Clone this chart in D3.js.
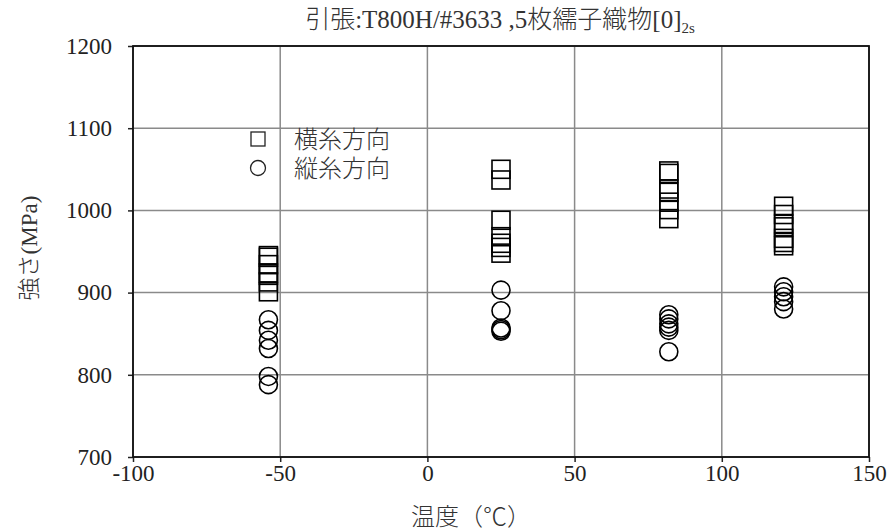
<!DOCTYPE html>
<html>
<head>
<meta charset="utf-8">
<script src="https://cdn.jsdelivr.net/npm/d3@7"></script>
<style>
  body { margin: 0; background: #fff; }
  svg text { font-family: "Liberation Serif", "Noto Sans CJK JP", serif; fill: #222; }
  svg text.cjk { font-weight: 300; fill: #333; }
</style>
</head>
<body>
<div id="chart"></div>
<script>
// temperatures (°C) where the specimens were tested
const temperatures = [-54, 25, 82, 121];
// 横糸方向 (squares) strength per temperature, MPa
const weftStrength = [
    [945, 943, 934, 924, 921, 913, 901],
    [1050, 1037, 988, 968, 960, 955, 948],
    [1048, 1045, 1026, 1022, 1010, 1001, 990],
    [1005, 995, 984, 980, 966, 961, 957]
];
// 縦糸方向 (circles) strength per temperature, MPa
const warpStrength = [
    [867, 854, 842, 832, 798, 788],
    [903, 878, 857, 855, 853],
    [873, 868, 862, 858, 854, 828],
    [907, 901, 895, 889, 880]
];
const xTicks = [-100, -50, 0, 50, 100, 150];
const yTicks = [700, 800, 900, 1000, 1100, 1200];
const legendNames = ["横糸方向", "縦糸方向"];

const width = 893, height = 531;
const margin = {top: 46, right: 24, bottom: 74, left: 133};

const svg = d3.select("#chart")
    .append("svg")
    .attr("width", width)
    .attr("height", height);

const x = d3.scaleLinear().domain([-100, 150]).range([margin.left, width - margin.right]);
const y = d3.scaleLinear().domain([700, 1200]).range([height - margin.bottom, margin.top]);

// grid lines
svg.append("g")
    .selectAll("line")
    .data(xTicks)
    .join("line")
    .attr("x1", d => x(d)).attr("x2", d => x(d))
    .attr("y1", y(700)).attr("y2", y(1200))
    .attr("stroke", "#8a8a8a")
    .attr("stroke-width", 1.5);
svg.append("g")
    .selectAll("line")
    .data(yTicks)
    .join("line")
    .attr("x1", x(-100)).attr("x2", x(150))
    .attr("y1", d => y(d)).attr("y2", d => y(d))
    .attr("stroke", "#8a8a8a")
    .attr("stroke-width", 1.5);

// axes
const xAxis = svg.append("g")
    .attr("transform", "translate(0," + y(700) + ")")
    .call(d3.axisBottom(x).tickValues(xTicks).tickSize(5).tickPadding(3).tickFormat(d => String(d)));
const yAxis = svg.append("g")
    .attr("transform", "translate(" + x(-100) + ",0)")
    .call(d3.axisLeft(y).tickValues(yTicks).tickSize(5).tickPadding(16).tickFormat(d => String(d)));
[xAxis, yAxis].forEach(a => {
    a.attr("font-family", null).attr("font-size", null);
    a.select(".domain").remove();
    a.selectAll("line").attr("stroke", "#222").attr("stroke-width", 1.5);
    a.selectAll("text").style("font-size", "23px").style("fill", "#222");
});

// plot border
svg.append("rect")
    .attr("x", x(-100)).attr("y", y(1200))
    .attr("width", x(150) - x(-100))
    .attr("height", y(700) - y(1200))
    .attr("fill", "none")
    .attr("stroke", "#111")
    .attr("stroke-width", 1.8);

// flatten data into points
const weftPoints = temperatures.flatMap((t, i) => weftStrength[i].map(v => [t, v]));
const warpPoints = temperatures.flatMap((t, i) => warpStrength[i].map(v => [t, v]));
const s = 18;

svg.append("g")
    .selectAll("rect")
    .data(weftPoints)
    .join("rect")
    .attr("x", d => x(d[0]) - s / 2)
    .attr("y", d => y(d[1]) - s / 2)
    .attr("width", s).attr("height", s)
    .attr("fill", "none")
    .attr("stroke", "#000")
    .attr("stroke-width", 1.6);

svg.append("g")
    .selectAll("circle")
    .data(warpPoints)
    .join("circle")
    .attr("cx", d => x(d[0]))
    .attr("cy", d => y(d[1]))
    .attr("r", s / 2)
    .attr("fill", "none")
    .attr("stroke", "#000")
    .attr("stroke-width", 1.6);

// legend
const legend = svg.append("g");
legend.append("rect")
    .attr("x", 251).attr("y", 132).attr("width", 14).attr("height", 14)
    .attr("fill", "none").attr("stroke", "#222").attr("stroke-width", 1.3);
legend.append("circle")
    .attr("cx", 258).attr("cy", 168).attr("r", 7.5)
    .attr("fill", "none").attr("stroke", "#222").attr("stroke-width", 1.3);
legend.selectAll("text")
    .data(legendNames)
    .join("text")
    .attr("class", "cjk")
    .attr("x", 294)
    .attr("y", (d, i) => 148 + i * 29)
    .text(d => d)
    .style("font-size", "24px");

// title
const title = svg.append("text")
    .attr("class", "cjk")
    .attr("x", 500)
    .attr("y", 28)
    .attr("text-anchor", "middle")
    .style("font-size", "25px");
title.append("tspan").text("引張:T800H/#3633 ,5枚繻子織物[0]");
title.append("tspan").attr("dy", 5).style("font-size", "15px").text("2s");

// axis titles
svg.append("text")
    .attr("class", "cjk")
    .attr("x", 471)
    .attr("y", 525)
    .attr("text-anchor", "middle")
    .style("font-size", "24px")
    .text("温度（℃）");
svg.append("text")
    .attr("class", "cjk")
    .attr("transform", "translate(37,248) rotate(-90)")
    .attr("text-anchor", "middle")
    .style("font-size", "23px")
    .text("強さ(MPa)");
</script>
</body>
</html>
